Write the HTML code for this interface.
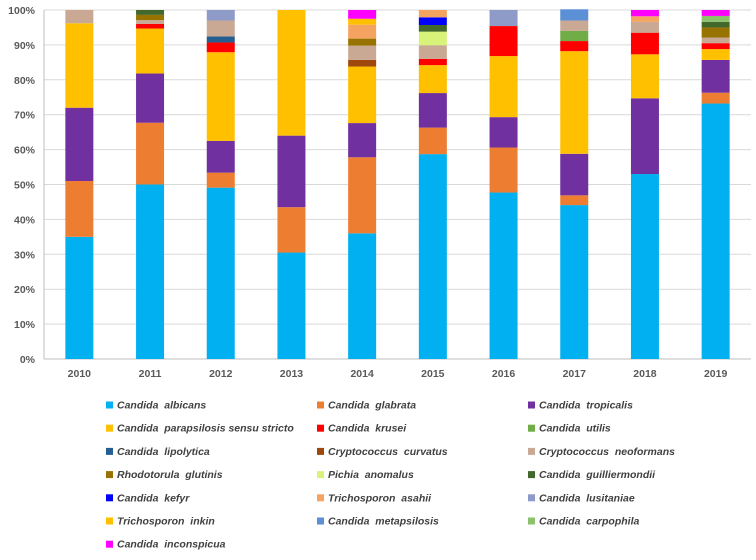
<!DOCTYPE html>
<html><head><meta charset="utf-8"><style>
body{margin:0;background:#fff;}
svg text{font-family:"Liberation Sans",sans-serif;}
</style></head><body>
<svg id="c" width="756" height="555" xmlns="http://www.w3.org/2000/svg"></svg>
<script>
const years=["2010","2011","2012","2013","2014","2015","2016","2017","2018","2019"];
const seriesNames=["Candida  albicans","Candida  glabrata","Candida  tropicalis","Candida  parapsilosis sensu stricto","Candida  krusei","Candida  utilis","Candida  lipolytica","Cryptococcus  curvatus","Cryptococcus  neoformans","Rhodotorula  glutinis","Pichia  anomalus","Candida  guilliermondii","Candida  kefyr","Trichosporon  asahii","Candida  lusitaniae","Trichosporon  inkin","Candida  metapsilosis","Candida  carpophila","Candida  inconspicua"];
const seriesColors=["#00b0f0","#ed7d31","#7030a0","#ffc000","#ff0000","#70ad47","#255e91","#9e480e","#c9a994","#997300","#d9f27a","#43682b","#0000ff","#f4a460","#8e9ac8","#ffc000","#5b8fd6","#8cc26b","#ff00ff"];
const albicans=[35,50,49.1,30.5,36,58.7,47.7,44.1,53,73.2];
const glabrata=[16,17.7,4.3,13,21.8,7.6,12.9,2.8,0,3.1];
const tropicalis=[21,14.1,9.1,20.5,9.8,9.9,8.7,11.9,21.7,9.4];
const parapsilosis=[24.2,12.9,25.4,36,16.2,8,17.5,29.4,12.6,3.1];
const krusei=[0,1.3,2.8,0,0,1.8,8.6,2.9,6.2,1.7];
const utilis=[0,0,0,0,0,0,0,2.9,0,0];
const lipolytica=[0,0,1.7,0,0,0,0,0,0,0];
const curvatus=[0,0,0,0,1.9,0,0,0,0,0];
const neoformans=[3.8,1.1,4.6,0,4.1,3.9,0,3,3.1,1.6];
const glutinis=[0,1.5,0,0,2.0,0,0,0,0,2.9];
const pichia=[0,0,0,0,0,3.9,0,0,0,0];
const guilliermondii=[0,1.4,0,0,0,1.9,0,0,0,1.6];
const kefyr=[0,0,0,0,0,2.2,0,0,0,0];
const asahii=[0,0,0,0,4.0,2.1,0,0,1.6,0];
const lusitaniae=[0,0,3,0,0,0,4.6,0,0,0];
const inkin=[0,0,0,0,1.7,0,0,0,0,0];
const metapsilosis=[0,0,0,0,0,0,0,3.2,0,0];
const carpophila=[0,0,0,0,0,0,0,0,0,1.7];
const inconspicua=[0,0,0,0,2.5,0,0,0,1.8,1.7];
const yTicks=[0,10,20,30,40,50,60,70,80,90,100];
const series=[albicans,glabrata,tropicalis,parapsilosis,krusei,utilis,lipolytica,curvatus,neoformans,glutinis,pichia,guilliermondii,kefyr,asahii,lusitaniae,inkin,metapsilosis,carpophila,inconspicua];

const svg=document.getElementById('c');
const NS="http://www.w3.org/2000/svg";
const X0=44,X1=751,Y0=359,Y1=10;
const band=(X1-X0)/years.length, bw=28;
const y=v=>Y0-(v/100)*(Y0-Y1);
const xc=i=>X0+band*(i+0.5);
function mk(t,a){const e=document.createElementNS(NS,t);for(const k in a)e.setAttribute(k,a[k]);svg.appendChild(e);return e;}
yTicks.forEach(t=>{
  const g=mk('line',{x1:X0,x2:X1,y1:y(t),y2:y(t),stroke:t===0?'#bfbfbf':'#d9d9d9','stroke-width':1});
  
  
  const l=mk('text',{x:35,y:y(t)+4,'text-anchor':'end','font-size':'10.5','font-weight':'bold',fill:'#595959'});
  l.textContent=t+'%';
  
  
});
const ax=mk('line',{x1:X0,x2:X0,y1:Y1,y2:Y0,stroke:'#bfbfbf'});


years.forEach((yr,i)=>{
  let cum=0;
  series.forEach((s,k)=>{
    const v=s[i]; if(!v) return;
    const r=mk('rect',{x:xc(i)-bw/2,y:y(cum+v),width:bw,height:y(cum)-y(cum+v),fill:seriesColors[k]});
    
    
    cum+=v;
  });
  const t=mk('text',{x:xc(i),y:377,'text-anchor':'middle','font-size':'10.5','font-weight':'bold',fill:'#595959'});
  t.textContent=yr;
  
  
});
const colX=[106,317,528];
seriesNames.forEach((n,k)=>{
  const cx=colX[k%3], cy=405+Math.floor(k/3)*23.2;
  const m=mk('rect',{x:cx,y:cy-3.5,width:7,height:7,fill:seriesColors[k]});
  
  
  const t=mk('text',{x:cx+11,y:cy+3.5,'font-size':'10.5','font-weight':'bold','font-style':'italic',fill:'#404040','xml:space':'preserve'});
  t.style.whiteSpace='pre';
  t.textContent=n;
  
  
});
</script>
</body></html>
